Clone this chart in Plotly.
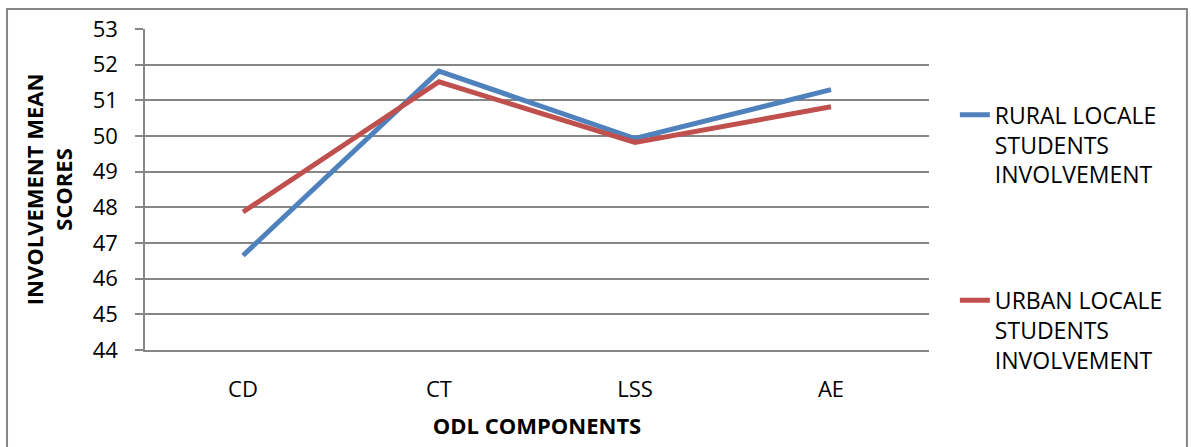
import plotly.graph_objects as go

# ODL components on the x axis
components = ["CD", "CT", "LSS", "AE"]

# Mean involvement scores per locale
rural_scores = [46.65, 51.82, 49.93, 51.3]
urban_scores = [47.87, 51.52, 49.82, 50.82]

y_ticks = [44, 45, 46, 47, 48, 49, 50, 51, 52, 53]

GRID = "#868686"
FONT = "Open Sans"
SIZE = 22
LEGEND_SIZE = 23

fig = go.Figure()
fig.add_trace(go.Scatter(
    x=components, y=rural_scores, mode="lines",
    name="RURAL LOCALE<br>STUDENTS<br>INVOLVEMENT",
    line=dict(color="#4F81BD", width=5),
    legend="legend", showlegend=True,
))
fig.add_trace(go.Scatter(
    x=components, y=urban_scores, mode="lines",
    name="URBAN LOCALE<br>STUDENTS<br>INVOLVEMENT",
    line=dict(color="#C0504D", width=5),
    legend="legend2", showlegend=True,
))

legend_style = dict(
    xanchor="left", yanchor="top", valign="top",
    font=dict(family=FONT, size=LEGEND_SIZE, color="#000000"),
    bgcolor="rgba(0,0,0,0)", borderwidth=0, tracegroupgap=0,
)

fig.update_layout(
    width=1191, height=447,
    margin=dict(l=145, r=262, t=29, b=97),
    paper_bgcolor="white", plot_bgcolor="white",
    showlegend=True,
    font=dict(family=FONT, size=SIZE, color="#000000"),
    legend=dict(x=1.033, y=0.80, **legend_style),
    legend2=dict(x=1.033, y=0.222, **legend_style),
    xaxis=dict(
        type="category", range=[-0.5, 3.5],
        showgrid=False, showline=True, linecolor=GRID, linewidth=1.5,
        ticks="", ticklabelstandoff=19,
        title=dict(text="<b>ODL COMPONENTS</b>", standoff=16,
                   font=dict(family=FONT, size=SIZE)),
    ),
    yaxis=dict(
        range=[44, 53], tickvals=y_ticks,
        showgrid=True, gridcolor=GRID, gridwidth=1.5,
        showline=True, linecolor=GRID, linewidth=1.5,
        ticks="outside", ticklen=8, tickcolor=GRID, tickwidth=1.5,
        ticklabelstandoff=13,
        title=dict(text="<b>INVOLVEMENT MEAN<br>SCORES</b>", standoff=14,
                   font=dict(family=FONT, size=SIZE)),
    ),
    shapes=[dict(
        type="rect", xref="paper", yref="paper",
        x0=-0.176, x1=1.329, y0=-0.4, y1=1.0623,
        line=dict(color=GRID, width=2), fillcolor="rgba(0,0,0,0)",
        layer="below",
    )],
)

fig.write_html("out.html")
